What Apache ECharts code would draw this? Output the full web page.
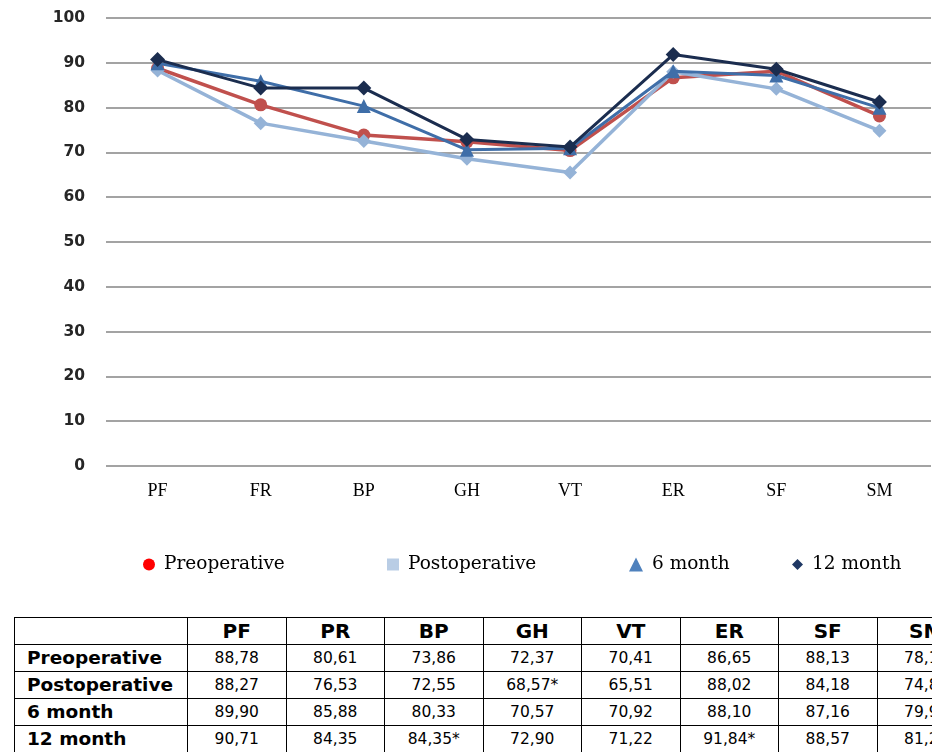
<!DOCTYPE html>
<html>
<head>
<meta charset="utf-8">
<script src="https://cdn.jsdelivr.net/npm/echarts@6/dist/echarts.min.js"></script>
<style>
  html, body { margin: 0; padding: 0; background: #fff; overflow: hidden; width: 932px; height: 752px; }
  #chart { position: absolute; left: 0; top: 0; width: 932px; height: 610px; }
  #scores {
    position: absolute; left: 14px; top: 617px; width: 961px;
    border-collapse: collapse; table-layout: fixed;
    font-family: "DejaVu Sans", sans-serif; color: #000;
  }
  #scores th, #scores td { border: 1.5px solid #000; height: 26px; padding: 0; text-align: center; white-space: nowrap; overflow: hidden; }
  #scores th { font-size: 20px; font-weight: bold; line-height: 24px; }
  #scores td { font-size: 15.5px; line-height: 24px; }
  #scores th.row { text-align: left; padding-left: 12px; font-size: 18.5px; }
</style>
</head>
<body>
<div id="chart"></div>
<table id="scores"></table>
<script>
const categories = ['PF', 'FR', 'BP', 'GH', 'VT', 'ER', 'SF', 'SM'];
const tableHeaders = ['PF', 'PR', 'BP', 'GH', 'VT', 'ER', 'SF', 'SM'];
const seriesNames = ['Preoperative', 'Postoperative', '6 month', '12 month'];
const preoperative = [88.78, 80.61, 73.86, 72.37, 70.41, 86.65, 88.13, 78.15];
const postoperative = [88.27, 76.53, 72.55, 68.57, 65.51, 88.02, 84.18, 74.86];
const month6 = [89.90, 85.88, 80.33, 70.57, 70.92, 88.10, 87.16, 79.94];
const month12 = [90.71, 84.35, 84.35, 72.90, 71.22, 91.84, 88.57, 81.24];
// [row, column] of values marked with an asterisk
const starred = [[1, 3], [3, 2], [3, 5]];

const rows = [preoperative, postoperative, month6, month12];

const chart = echarts.init(document.getElementById('chart'), null, { renderer: 'canvas' });

const styles = [
  { line: '#c0504d', symbol: 'circle', size: 13, legend: '#ff0000', icon: 'circle', width: 3.5 },
  { line: '#95b3d7', symbol: 'diamond', size: 14, legend: '#b9cde5', icon: 'rect', width: 3.5 },
  { line: '#3f6ea8', symbol: 'triangle', size: 14, legend: '#4f81bd', icon: 'triangle', width: 3 },
  { line: '#1b2d4f', symbol: 'diamond', size: 15, legend: '#1f3864', icon: 'diamond', width: 3 },
];
const legendLeft = [138, 382, 624, 787];
const legendIconSize = [12, 12, 14, 11];

const serifFont = '"Liberation Serif", "DejaVu Serif", serif';

chart.setOption({
  animation: false,
  backgroundColor: '#fff',
  grid: { left: 106, right: 1, top: 18, bottom: 144 },
  xAxis: {
    type: 'category',
    data: categories,
    axisLine: { show: false },
    axisTick: { show: false },
    axisLabel: { color: '#000', fontFamily: serifFont, fontSize: 18, margin: 16 },
  },
  yAxis: {
    type: 'value',
    min: 0,
    max: 100,
    interval: 10,
    axisLine: { show: false },
    axisTick: { show: false },
    axisLabel: { color: '#262626', fontFamily: '"DejaVu Sans", sans-serif', fontWeight: 'bold', fontSize: 15.5, margin: 21 },
    splitLine: { lineStyle: { color: '#a3a3a3', width: 2 } },
  },
  legend: seriesNames.map((name, i) => ({
    left: legendLeft[i],
    top: 550,
    itemWidth: legendIconSize[i],
    itemHeight: legendIconSize[i],
    itemGap: 0,
    textStyle: { color: '#000', fontFamily: '"DejaVu Serif", serif', fontSize: 18.5, padding: [0, 0, 0, 4] },
    data: [{ name, icon: styles[i].icon, itemStyle: { color: styles[i].legend } }],
  })),
  series: rows.map((values, i) => ({
    name: seriesNames[i],
    type: 'line',
    data: values,
    symbol: styles[i].symbol,
    symbolSize: styles[i].size,
    z: 2 + i,
    lineStyle: { color: styles[i].line, width: styles[i].width },
    itemStyle: { color: styles[i].line },
  })),
});

function formatValue(value, row, col) {
  const text = value.toFixed(2).replace('.', ',');
  const marked = starred.some(([r, c]) => r === row && c === col);
  return marked ? text + '*' : text;
}

const table = document.getElementById('scores');
const colgroup = document.createElement('colgroup');
const first = document.createElement('col');
first.style.width = '173px';
colgroup.appendChild(first);
tableHeaders.forEach(() => {
  const col = document.createElement('col');
  col.style.width = '98.5px';
  colgroup.appendChild(col);
});
table.appendChild(colgroup);

const headRow = document.createElement('tr');
headRow.appendChild(document.createElement('th'));
tableHeaders.forEach((label) => {
  const th = document.createElement('th');
  th.textContent = label;
  headRow.appendChild(th);
});
table.appendChild(headRow);

rows.forEach((values, r) => {
  const tr = document.createElement('tr');
  const th = document.createElement('th');
  th.className = 'row';
  th.textContent = seriesNames[r];
  tr.appendChild(th);
  values.forEach((value, c) => {
    const td = document.createElement('td');
    td.textContent = formatValue(value, r, c);
    tr.appendChild(td);
  });
  table.appendChild(tr);
});
</script>
</body>
</html>
